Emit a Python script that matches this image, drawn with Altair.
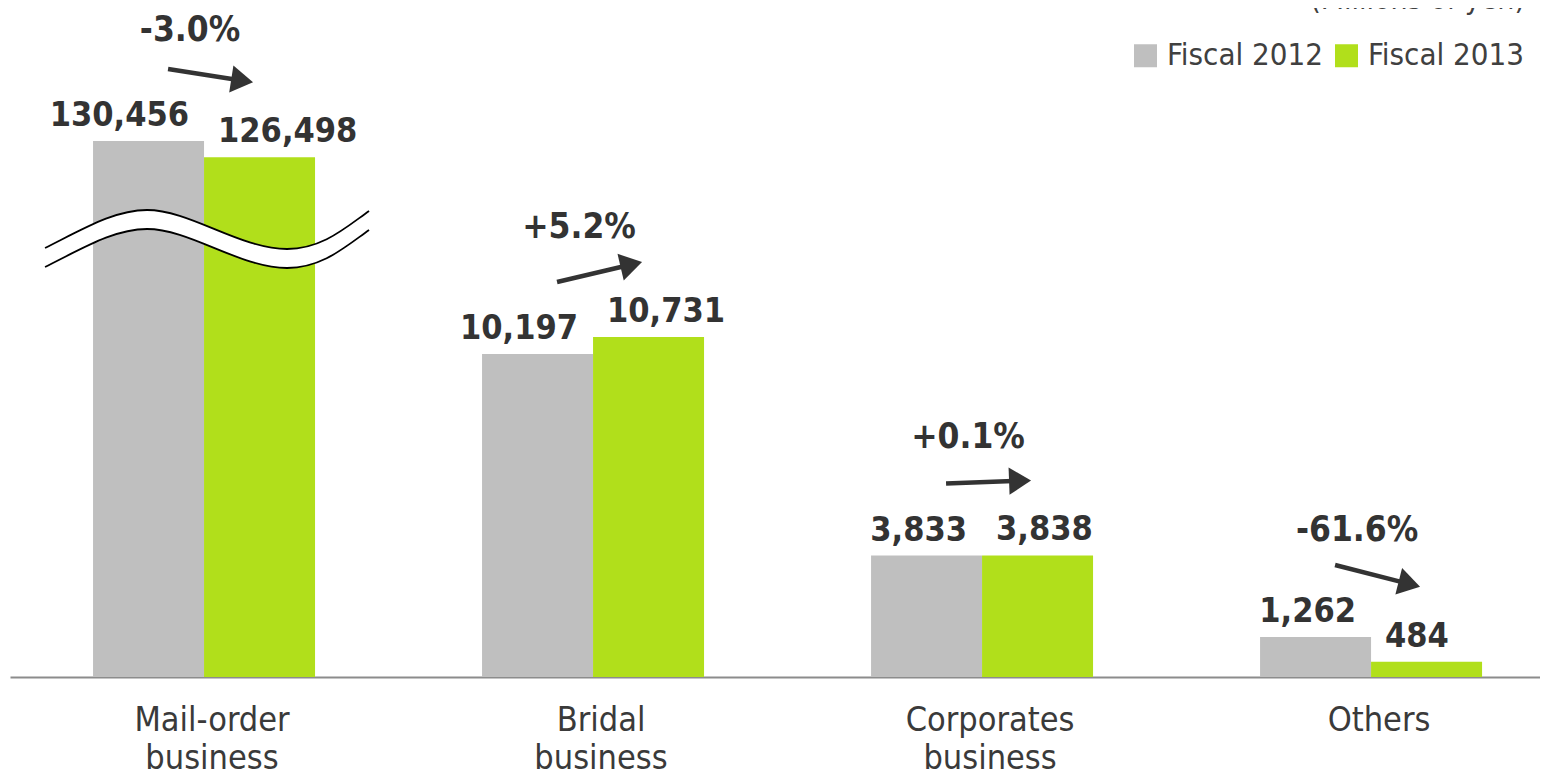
import math
import altair as alt
import pandas as pd

# ---------------- data ----------------
CATEGORIES = ["Mail-order business", "Bridal business", "Corporates business", "Others"]
SERIES = ["Fiscal 2012", "Fiscal 2013"]
FY2012 = [130456, 10197, 3833, 1262]
FY2013 = [126498, 10731, 3838, 484]
COLORS = ["#bfbfbf", "#b1df1b"]
UNIT_NOTE = ["(Millions of yen)"]

# ---------------- layout / scale settings ----------------
W, H = 1530, 669
Y_MAX = 21120
K = H / Y_MAX                 # pixels per unit on the (lower) axis
BREAK_LIMIT = 20000           # values above are drawn on a compressed (broken) axis
BREAK_RATIO = 0.1297
BREAK_AT = 13812              # where the break symbol sits (axis units)
FONT = "DejaVu Sans Condensed, DejaVu Sans"
TXT = "#333333"


def shown(v):
    return v * BREAK_RATIO if v > BREAK_LIMIT else v


rows = []
for c, a, b in zip(CATEGORIES, FY2012, FY2013):
    for s, v in zip(SERIES, (a, b)):
        rows.append({"category": c, "series": s, "value": v, "shown": shown(v),
                     "label_y": shown(v) + 15 / K, "label": f"{v:,}"})
bars_df = pd.DataFrame(rows)

# arrows + percentage change
START_GAP, TIP_GAP = 72, 75   # px above the bar tops
START_DX, TIP_DX = -36, 49    # px from the category centre
SHORTEN = 18
arr = []
for c, a, b in zip(CATEGORIES, FY2012, FY2013):
    sy = shown(a) + START_GAP / K
    ty = shown(b) + TIP_GAP / K
    dxp = TIP_DX - START_DX
    ly = ty + (sy - ty) * SHORTEN / dxp
    dyp = -(ty - sy) * K
    ang = math.degrees(math.atan2(dyp, dxp)) % 360
    pct = (b / a - 1) * 100
    arr.append({"category": c, "start_y": sy, "line_y": ly, "tip_y": ty, "angle": ang,
                "pct_y": (shown(a) + shown(b)) / 2 + 108 / K, "pct": f"{pct:+.1f}%"})
arr_df = pd.DataFrame(arr)

brk_df = pd.DataFrame({"category": [CATEGORIES[0]], "brk": [BREAK_AT]})
note_df = pd.DataFrame({"note": UNIT_NOTE})

# ---------------- break symbol (custom path) ----------------
R = 162.0
UP = [(-162, 8.5), (-122, -11.5), (-92, -29.5), (-60, -29.5), (-17, -29.5), (33, 9.5),
      (80, 9.5), (115, 9.5), (138, -11.5), (162, -28.5)]
GAP = 19.0


def P(p, dy=0.0):
    return f"{p[0] / R:.4f},{(p[1] + dy) / R:.4f}"


def curve(pts, dy=0.0):
    s = "M" + P(pts[0], dy)
    for i in range(1, len(pts), 3):
        s += " C" + P(pts[i], dy) + " " + P(pts[i + 1], dy) + " " + P(pts[i + 2], dy)
    return s


upper = curve(UP)
lower = curve(UP, GAP)
rev = list(reversed(UP))
band = upper + " L" + P(rev[0], GAP)
for i in range(1, len(rev), 3):
    band += " C" + P(rev[i], GAP) + " " + P(rev[i + 1], GAP) + " " + P(rev[i + 2], GAP)
band += " Z"
lines_path = upper + " " + lower
SYM_SIZE = (2 * R) ** 2

ARROW_HEAD = "M0,0 L-1,-0.62 L-1,0.62 Z"

# ---------------- chart ----------------
xscale = alt.Scale(paddingInner=0.4293, paddingOuter=0.1812, align=0.589)
yscale = alt.Scale(domain=[0, Y_MAX], nice=False, zero=True)
X = alt.X("category:N", sort=CATEGORIES, scale=xscale,
          axis=alt.Axis(title=None, labelExpr="split(datum.label, ' ')", labelAngle=0,
                        labelFontSize=34, labelFont=FONT, labelColor="#3a3a3a",
                        ticks=False, domainColor="#8c8c8c", domainWidth=2,
                        labelPadding=53, labelBaseline="alphabetic", labelLineHeight=38,
                        labelOffset=8, grid=False))

bars = alt.Chart(bars_df).mark_bar().encode(
    x=X,
    xOffset=alt.XOffset("series:N", sort=SERIES, scale=alt.Scale(paddingInner=0, paddingOuter=0)),
    y=alt.Y("shown:Q", scale=yscale, axis=None),
    color=alt.Color("series:N", sort=SERIES, scale=alt.Scale(domain=SERIES, range=COLORS),
                    legend=alt.Legend(title=None, orient="none", legendX=1120, legendY=32,
                                      direction="horizontal", symbolType="square",
                                      symbolSize=529, symbolStrokeWidth=0,
                                      labelFontSize=31, labelFont=FONT, labelColor="#404040",
                                      columnPadding=7, labelOffset=6, padding=0)),
)

brk_fill = alt.Chart(brk_df).mark_point(shape=band, size=SYM_SIZE, filled=True, fill="white",
                                         strokeWidth=0, opacity=1, xOffset=3).encode(
    x=alt.X("category:N", sort=CATEGORIES, scale=xscale),
    y=alt.Y("brk:Q", scale=yscale, axis=None),
)
brk_lines = alt.Chart(brk_df).mark_point(shape=lines_path, size=SYM_SIZE, filled=False,
                                          stroke="black", strokeWidth=1.8, opacity=1, xOffset=3).encode(
    x=alt.X("category:N", sort=CATEGORIES, scale=xscale),
    y=alt.Y("brk:Q", scale=yscale, axis=None),
)

lab12 = alt.Chart(bars_df[bars_df.series == SERIES[0]]).mark_text(
    align="right", baseline="alphabetic", dx=-15, fontSize=34, font=FONT,
    fontWeight="bold", color=TXT).encode(
    x=alt.X("category:N", sort=CATEGORIES, scale=xscale),
    y=alt.Y("label_y:Q", scale=yscale, axis=None),
    text="label:N",
)
lab13 = alt.Chart(bars_df[bars_df.series == SERIES[1]]).mark_text(
    align="left", baseline="alphabetic", dx=14, fontSize=34, font=FONT,
    fontWeight="bold", color=TXT).encode(
    x=alt.X("category:N", sort=CATEGORIES, scale=xscale),
    y=alt.Y("label_y:Q", scale=yscale, axis=None),
    text="label:N",
)

arrow_line = alt.Chart(arr_df).mark_rule(strokeWidth=4.5, color=TXT, xOffset=START_DX,
                                          x2Offset=TIP_DX - SHORTEN).encode(
    x=alt.X("category:N", sort=CATEGORIES, scale=xscale),
    x2="category:N",
    y=alt.Y("start_y:Q", scale=yscale, axis=None),
    y2="line_y:Q",
)
arrow_head = alt.Chart(arr_df).mark_point(shape=ARROW_HEAD, size=1936, filled=True,
                                           fill=TXT, strokeWidth=0, opacity=1,
                                           xOffset=TIP_DX).encode(
    x=alt.X("category:N", sort=CATEGORIES, scale=xscale),
    y=alt.Y("tip_y:Q", scale=yscale, axis=None),
    angle=alt.Angle("angle:Q", scale=None),
)
pct = alt.Chart(arr_df).mark_text(align="center", baseline="alphabetic", dx=-14, fontSize=35,
                                  font=FONT, fontWeight="bold", color=TXT).encode(
    x=alt.X("category:N", sort=CATEGORIES, scale=xscale),
    y=alt.Y("pct_y:Q", scale=yscale, axis=None),
    text="pct:N",
)

# unit note, mostly above the top edge as in the original
note = alt.Chart(note_df).mark_text(align="right", baseline="alphabetic", fontSize=30,
                                    font=FONT, color="#404040").encode(
    x=alt.value(W - 15), y=alt.value(1), text="note:N",
)

chart = alt.layer(bars, brk_fill, brk_lines, lab12, lab13, arrow_line, arrow_head, pct, note).properties(
    width=W, height=H,
    padding={"left": 2, "top": 0, "right": 0, "bottom": 92},
    autosize=alt.AutoSizeParams(type="none"),
).configure_view(stroke=None)

chart.save("out.html", embed_options={"renderer": "svg", "actions": False})
